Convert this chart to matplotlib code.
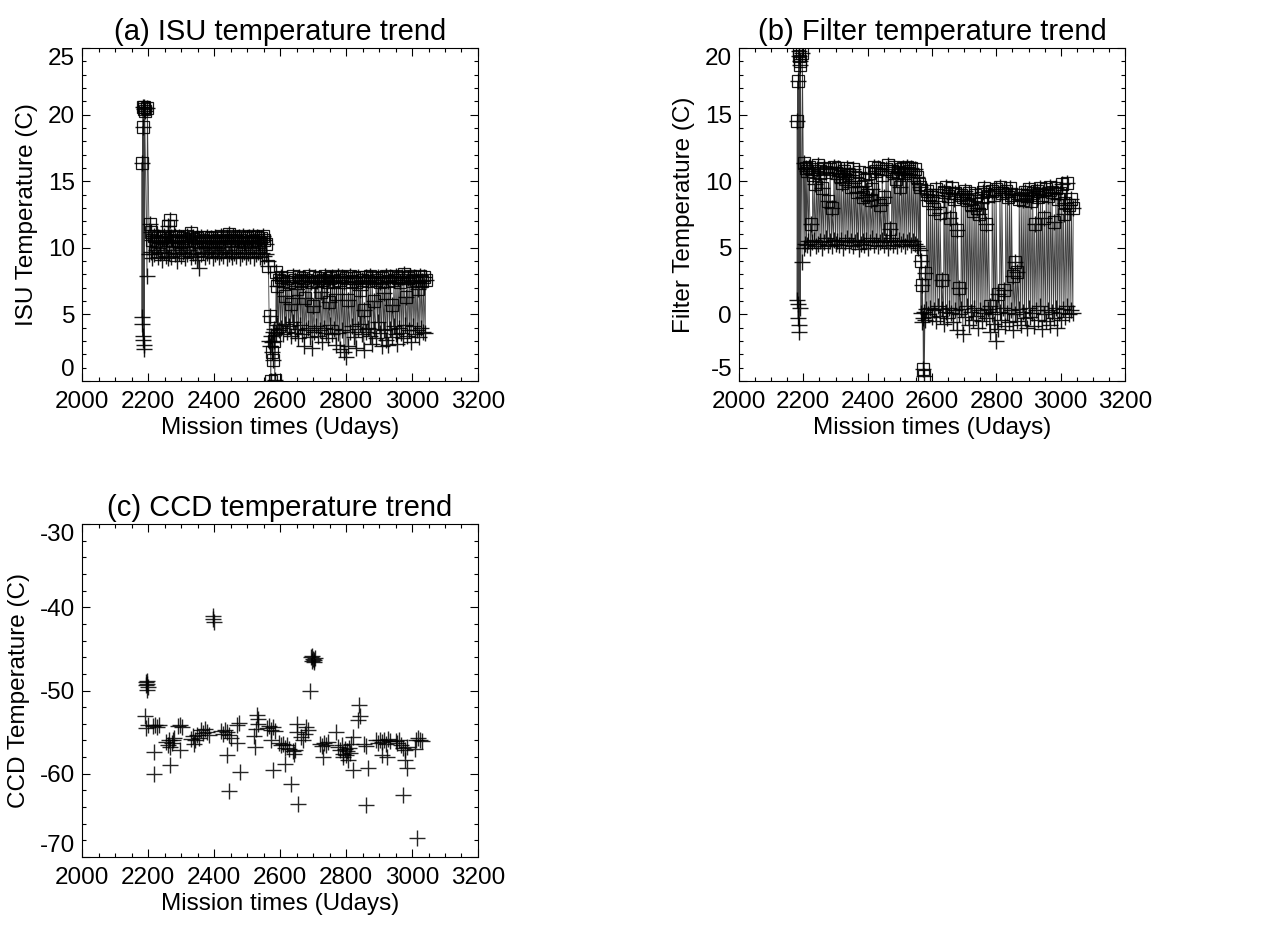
import numpy as np
import matplotlib.pyplot as plt
from matplotlib.ticker import MultipleLocator

plt.rcParams['font.family'] = ['Liberation Sans', 'DejaVu Sans']
plt.rcParams['axes.unicode_minus'] = False

# (a) ISU: время, "нижняя" точка (плюс) и "верхняя" точка (квадрат)
isu_t = [2181, 2183, 2184, 2186, 2187, 2189, 2197, 2204, 2208, 2212, 2218, 2224, 2230, 2236, 2242,
         2248, 2254, 2260, 2265, 2270, 2276, 2282, 2288, 2294, 2300, 2306, 2312, 2318, 2324, 2330,
         2336, 2342, 2348, 2354, 2360, 2366, 2372, 2378, 2384, 2390, 2396, 2402, 2408, 2414, 2420,
         2426, 2432, 2438, 2444, 2450, 2456, 2462, 2468, 2474, 2480, 2486, 2492, 2498, 2504, 2510,
         2516, 2522, 2528, 2534, 2540, 2546, 2552, 2558, 2564, 2568, 2571, 2574, 2577, 2580, 2583,
         2587, 2591, 2596, 2602, 2608, 2614, 2620, 2626, 2632, 2638, 2644, 2650, 2656, 2662, 2668,
         2674, 2680, 2686, 2692, 2698, 2704, 2710, 2716, 2722, 2728, 2734, 2740, 2746, 2752, 2758,
         2764, 2770, 2776, 2782, 2788, 2794, 2800, 2806, 2812, 2818, 2824, 2830, 2836, 2842, 2848,
         2854, 2860, 2866, 2872, 2878, 2884, 2890, 2896, 2902, 2908, 2914, 2920, 2926, 2932, 2938,
         2944, 2950, 2956, 2962, 2968, 2974, 2980, 2986, 2992, 2998, 3004, 3010, 3016, 3022, 3028,
         3034, 3040]
isu_plus = [4.8, 4.3, 3.4, 3.1, 2.7, 2.4, 7.9, 9.5, 9.7, 9.2, 9.5, 9.8, 9.3, 9.6, 9.1,
            9.7, 9.4, 9.2, 9.6, 9.3, 9.8, 9.5, 9.0, 9.6, 9.4, 9.7, 9.2, 9.5, 9.8, 9.3,
            9.6, 9.4, 9.1, 8.5, 9.5, 9.7, 9.3, 9.6, 9.4, 9.8, 9.2, 9.5, 9.7, 9.3, 9.6,
            9.4, 9.8, 9.2, 9.5, 9.7, 9.3, 9.6, 9.4, 9.8, 9.2, 9.5, 9.7, 9.3, 9.6, 9.4,
            9.8, 9.2, 9.5, 9.7, 9.3, 9.6, 9.4, 9.5, 9.0, 3.0, 2.6, 3.4, 2.9, 3.7, 3.9,
            3.6, 4.2, 3.8, 4.0, 3.5, 4.3, 3.7, 4.1, 3.4, 4.4, 3.6, 3.9, 3.2, 4.2, 3.5,
            2.6, 3.8, 4.0, 3.3, 2.5, 3.7, 4.1, 3.4, 3.8, 2.9, 4.0, 3.6, 3.2, 4.2, 3.5,
            3.9, 2.7, 3.6, 2.4, 3.8, 2.2, 1.8, 2.6, 3.7, 4.1, 3.3, 2.5, 3.9, 4.3, 3.5,
            2.3, 3.7, 4.0, 3.4, 2.8, 3.9, 3.2, 4.4, 3.6, 2.6, 3.8, 3.1, 2.7, 3.9, 3.3,
            4.1, 3.5, 2.8, 4.0, 3.6, 3.2, 4.2, 3.4, 3.8, 2.9, 4.1, 3.5, 3.8, 3.3, 4.0,
            3.7, 3.6]
isu_square = [16.4, 19.1, 20.6, 20.4, 20.6, 20.3, 20.5, 11.8, 11.2, 10.6, 10.9, 10.5, 10.8, 10.4, 10.7,
              10.9, 10.6, 11.6, 12.1, 10.8, 10.5, 10.9, 10.6, 10.8, 10.4, 10.7, 10.5, 10.9, 10.6, 11.1,
              10.8, 10.5, 10.7, 10.4, 10.8, 10.6, 10.5, 10.8, 10.4, 10.7, 10.5, 10.8, 10.6, 10.4, 10.9,
              10.7, 10.5, 10.8, 11.0, 10.6, 10.9, 10.7, 10.5, 10.8, 10.6, 10.9, 10.4, 10.7, 10.8, 10.5,
              10.9, 10.6, 10.8, 10.4, 10.7, 10.9, 10.6, 10.3, 8.6, 4.9, 0.0, 2.2, 1.6, 3.0, 0.1,
              8.2, 7.1, 7.6, 7.8, 7.5, 6.4, 7.7, 7.4, 5.8, 7.9, 7.6, 6.9, 7.8, 7.5, 7.7,
              6.2, 7.6, 7.9, 7.4, 5.6, 7.8, 7.5, 7.7, 6.7, 7.6, 7.9, 7.4, 5.9, 7.7, 7.8,
              7.5, 6.5, 7.9, 7.6, 7.8, 7.4, 7.7, 6.1, 7.9, 7.5, 7.7, 7.4, 7.8, 6.8, 7.6,
              5.3, 7.8, 7.5, 7.9, 7.7, 6.0, 7.6, 7.8, 7.4, 7.7, 6.6, 7.9, 7.5, 7.8, 5.7,
              7.6, 7.9, 7.7, 7.4, 7.8, 8.0, 6.3, 7.7, 7.9, 7.5, 7.8, 7.6, 6.9, 7.9, 7.5,
              7.8, 7.6]

# (b) фильтр
flt_t = [2180, 2182, 2184, 2186, 2188, 2190, 2196, 2202, 2206, 2210, 2216, 2222, 2228, 2234, 2240,
         2246, 2252, 2258, 2264, 2270, 2276, 2282, 2288, 2294, 2300, 2306, 2312, 2318, 2324, 2330,
         2336, 2342, 2348, 2354, 2360, 2366, 2372, 2378, 2384, 2390, 2396, 2402, 2408, 2414, 2420,
         2426, 2432, 2438, 2444, 2450, 2456, 2462, 2468, 2474, 2480, 2486, 2492, 2498, 2504, 2510,
         2516, 2522, 2528, 2534, 2540, 2546, 2552, 2558, 2562, 2566, 2569, 2572, 2575, 2578, 2582,
         2588, 2594, 2600, 2606, 2612, 2618, 2624, 2630, 2636, 2642, 2648, 2654, 2660, 2666, 2672,
         2678, 2684, 2690, 2696, 2702, 2708, 2714, 2720, 2726, 2732, 2738, 2744, 2750, 2756, 2762,
         2768, 2774, 2780, 2786, 2792, 2798, 2804, 2810, 2816, 2822, 2828, 2834, 2840, 2846, 2852,
         2858, 2864, 2870, 2876, 2882, 2888, 2894, 2900, 2906, 2912, 2918, 2924, 2930, 2936, 2942,
         2948, 2954, 2960, 2966, 2972, 2978, 2984, 2990, 2996, 3002, 3008, 3014, 3020, 3026, 3032,
         3038]
flt_plus = [1.1, 0.8, -0.3, -0.8, -1.3, 0.5, 3.9, 5.0, 5.3, 5.2, 5.5, 5.0, 5.4, 5.6, 5.1,
            5.3, 5.5, 5.0, 5.4, 5.7, 5.2, 5.5, 5.1, 5.6, 5.3, 5.5, 5.2, 5.6, 5.0, 5.4,
            5.7, 5.2, 5.5, 5.1, 5.4, 5.6, 4.9, 5.3, 5.5, 5.2, 5.6, 5.0, 5.4, 5.7, 5.2,
            5.5, 5.1, 5.4, 5.6, 5.2, 5.5, 5.0, 5.4, 5.7, 5.2, 5.5, 5.1, 5.6, 5.3, 5.5,
            5.1, 5.4, 5.6, 5.2, 5.5, 5.3, 5.1, 5.0, 4.8, 0.1, -0.6, -0.3, 0.2, -0.4, 0.4,
            0.0, 0.5, -0.2, 0.3, -0.5, 0.6, -0.1, 0.4, -0.7, 0.2, -0.3, 0.5, 0.1, -0.6, 0.3,
            -1.2, 0.0, 0.4, -1.5, -0.2, 0.6, -0.8, 0.2, -0.4, 0.5, -0.1, -1.0, 0.3, -0.5, 0.1,
            -0.3, 0.4, -1.3, 0.0, -0.7, -2.0, -1.1, 0.2, -0.4, 0.5, -0.9, 0.1, -0.6, 0.3, -1.2,
            0.0, -0.5, 0.4, -0.8, 0.2, -0.3, -1.0, 0.5, -0.2, 0.1, -0.9, 0.3, -0.4, 0.6, -1.1,
            0.0, -0.5, 0.3, -0.8, 0.2, -0.3, 0.5, -1.0, 0.1, -0.4, 0.4, -0.2, 0.6, 0.0, 0.3,
            0.1]
flt_square = [14.5, 17.5, 19.8, 19.4, 19.0, 18.7, 19.6, 11.4, 11.0, 10.8, 11.1, 6.8, 10.5, 9.8, 10.9,
              11.2, 10.6, 9.5, 11.0, 10.7, 8.5, 10.9, 8.0, 11.1, 10.6, 11.0, 10.4, 9.9, 10.8, 10.2,
              11.0, 10.5, 9.6, 10.9, 10.3, 9.2, 10.7, 9.6, 8.8, 10.1, 9.0, 10.6, 8.6, 9.4, 11.1,
              10.8, 11.0, 8.2, 10.5, 8.8, 10.9, 11.2, 6.4, 10.8, 11.1, 10.2, 10.7, 9.6, 10.9, 11.0,
              10.6, 11.1, 10.8, 11.0, 10.5, 10.9, 10.3, 9.8, 9.6, 4.0, 2.2, -4.1, -4.6, 3.1, 9.3,
              8.6, 9.0, 8.8, 7.9, 9.4, 8.5, 7.6, 2.6, 9.2, 9.6, 8.9, 7.2, 9.5, 8.7, 9.1,
              6.3, 2.0, 9.0, 8.8, 9.3, 8.6, 9.1, 8.3, 7.8, 9.0, 8.0, 7.5, 8.4, 9.2, 9.5,
              6.8, 8.9, 0.6, 9.3, 9.0, 9.4, 1.5, 9.6, 9.1, 1.8, 9.3, 8.8, 9.5, 9.0, 2.9,
              3.9, 3.2, 8.7, 9.0, 8.6, 9.2, 8.9, 9.4, 8.5, 9.1, 6.8, 9.3, 8.8, 9.5, 9.0,
              7.2, 9.4, 8.9, 9.6, 9.2, 6.9, 9.5, 8.7, 9.1, 9.8, 7.5, 8.4, 9.9, 8.2, 8.7,
              8.0]

# (c) ПЗС
ccd_t = [2193, 2195, 2197, 2199, 2196, 2198, 2190, 2195, 2200, 2215, 2220, 2226, 2232, 2218, 2217,
         2268, 2255, 2260, 2264, 2268, 2272, 2276, 2280, 2292, 2298, 2304, 2296, 2330, 2336, 2342,
         2348, 2354, 2340, 2362, 2368, 2374, 2380, 2386, 2396, 2398, 2400, 2420, 2426, 2432, 2438,
         2444, 2450, 2438, 2446, 2470, 2476, 2470, 2478, 2520, 2524, 2530, 2532, 2534, 2528, 2560,
         2566, 2572, 2578, 2584, 2578, 2574, 2596, 2602, 2608, 2614, 2620, 2626, 2616, 2634, 2638,
         2642, 2646, 2650, 2652, 2656, 2664, 2670, 2676, 2680, 2684, 2690, 2694, 2696, 2698, 2700,
         2702, 2704, 2706, 2722, 2728, 2734, 2740, 2746, 2730, 2770, 2776, 2782, 2788, 2792, 2796,
         2800, 2804, 2808, 2812, 2816, 2820, 2806, 2822, 2790, 2836, 2840, 2842, 2856, 2860, 2866,
         2862, 2892, 2898, 2904, 2910, 2916, 2922, 2928, 2934, 2910, 2925, 2950, 2956, 2962, 2968,
         2974, 2980, 2986, 2972, 2984, 2978, 3012, 3018, 3024, 3030, 3014, 3008]
ccd_v = [-49.0, -49.3, -48.8, -49.6, -49.9, -49.2, -53.1, -54.5, -54.2, -54.3, -54.1, -54.4, -54.2, -57.4, -60.0,
         -59.0, -56.2, -56.5, -55.9, -56.8, -56.3, -56.0, -55.7, -54.3, -54.1, -54.4, -57.2, -55.8, -55.5, -55.9,
         -55.4, -55.7, -56.4, -54.8, -55.1, -54.6, -55.0, -55.3, -41.0, -41.4, -41.8, -54.9, -55.2, -54.7, -55.0,
         -55.4, -55.7, -57.8, -62.1, -54.1, -53.9, -56.3, -59.8, -55.5, -56.8, -52.9, -53.4, -54.0, -54.6, -54.5,
         -54.3, -54.7, -54.4, -54.9, -59.6, -56.0, -56.3, -56.6, -56.4, -56.9, -56.5, -57.0, -58.8, -61.2, -57.3,
         -57.6, -57.1, -54.0, -55.0, -63.6, -55.6, -56.0, -55.2, -54.4, -54.8, -50.0, -46.0, -46.4, -45.8, -46.2,
         -46.6, -46.3, -46.1, -56.4, -56.7, -56.3, -56.6, -56.2, -58.0, -55.0, -56.8, -57.2, -56.5, -57.6, -57.0,
         -57.8, -57.3, -56.9, -57.5, -56.4, -55.6, -58.3, -59.6, -58.0, -53.6, -51.8, -53.1, -56.4, -56.7, -59.3,
         -63.8, -56.0, -56.3, -55.9, -56.2, -56.0, -56.4, -55.8, -56.1, -57.7, -58.0, -56.1, -56.3, -56.0, -56.6,
         -56.9, -57.2, -56.8, -62.6, -59.3, -58.4, -56.0, -55.7, -55.9, -56.1, -67.7, -57.0]

W, H = 1278, 932
fig = plt.figure(figsize=(W / 100, H / 100), dpi=100)


def make_axes(l, t, r, b):
    return fig.add_axes([l / W, 1 - b / H, (r - l) / W, (b - t) / H])


def style(ax, ymin, ymax, ymaj, ymin_step, title, ylabel):
    ax.set_xlim(2000, 3200)
    ax.set_ylim(ymin, ymax)
    ax.xaxis.set_major_locator(MultipleLocator(200))
    ax.xaxis.set_minor_locator(MultipleLocator(50))
    ax.set_yticks(np.arange(ymin, ymax + ymaj / 2, ymaj))
    ax.yaxis.set_minor_locator(MultipleLocator(ymin_step))
    ax.tick_params(which='both', direction='in', top=True, right=True, width=0.8)
    ax.tick_params(which='major', length=6, labelsize=17.5)
    ax.tick_params(axis='x', which='major', pad=7)
    ax.tick_params(axis='y', which='major', pad=5)
    ax.tick_params(which='minor', length=3)
    for s in ax.spines.values():
        s.set_linewidth(0.8)
    ax.set_title(title, fontsize=21, pad=6)
    ax.set_xlabel('Mission times (Udays)', fontsize=17.5, labelpad=3)
    ax.set_ylabel(ylabel, fontsize=17.5, labelpad=7)
    # как в IDL: крайние подписи оси Y не выходят за рамку
    for tick, loc in zip(ax.yaxis.get_major_ticks(), ax.get_yticks()):
        if abs(loc - ymin) < 1e-6:
            tick.label1.set_verticalalignment('bottom')
        elif abs(loc - ymax) < 1e-6:
            tick.label1.set_verticalalignment('top')


def draw_pairs(ax, t, p, s):
    t = np.asarray(t, dtype=float)
    ts = t + 1
    x = np.column_stack([t, ts]).ravel()
    y = np.column_stack([p, s]).ravel()
    ax.plot(x, y, color='k', lw=0.6, alpha=0.75)
    ax.plot(x, y, ls='none', marker='+', ms=11, mew=1.0, color='k', alpha=0.9)
    ax.plot(ts, s, ls='none', marker='s', ms=9, mfc='none', mec='k', mew=0.9, alpha=0.9)


ax1 = make_axes(82, 48, 478, 381)
draw_pairs(ax1, isu_t, isu_plus, isu_square)
style(ax1, 0, 25, 5, 1, '(a) ISU temperature trend', 'ISU Temperature (C)')

ax2 = make_axes(739, 48, 1125, 381)
draw_pairs(ax2, flt_t, flt_plus, flt_square)
style(ax2, -5, 20, 5, 1, '(b) Filter temperature trend', 'Filter Temperature (C)')

ax3 = make_axes(82, 524, 478, 857)
ax3.plot(ccd_t, ccd_v, ls='none', marker='+', ms=12, mew=1.0, color='k', alpha=0.85)
style(ax3, -70, -30, 10, 2, '(c) CCD temperature trend', 'CCD Temperature (C)')

fig.savefig('out.png', dpi=100)
